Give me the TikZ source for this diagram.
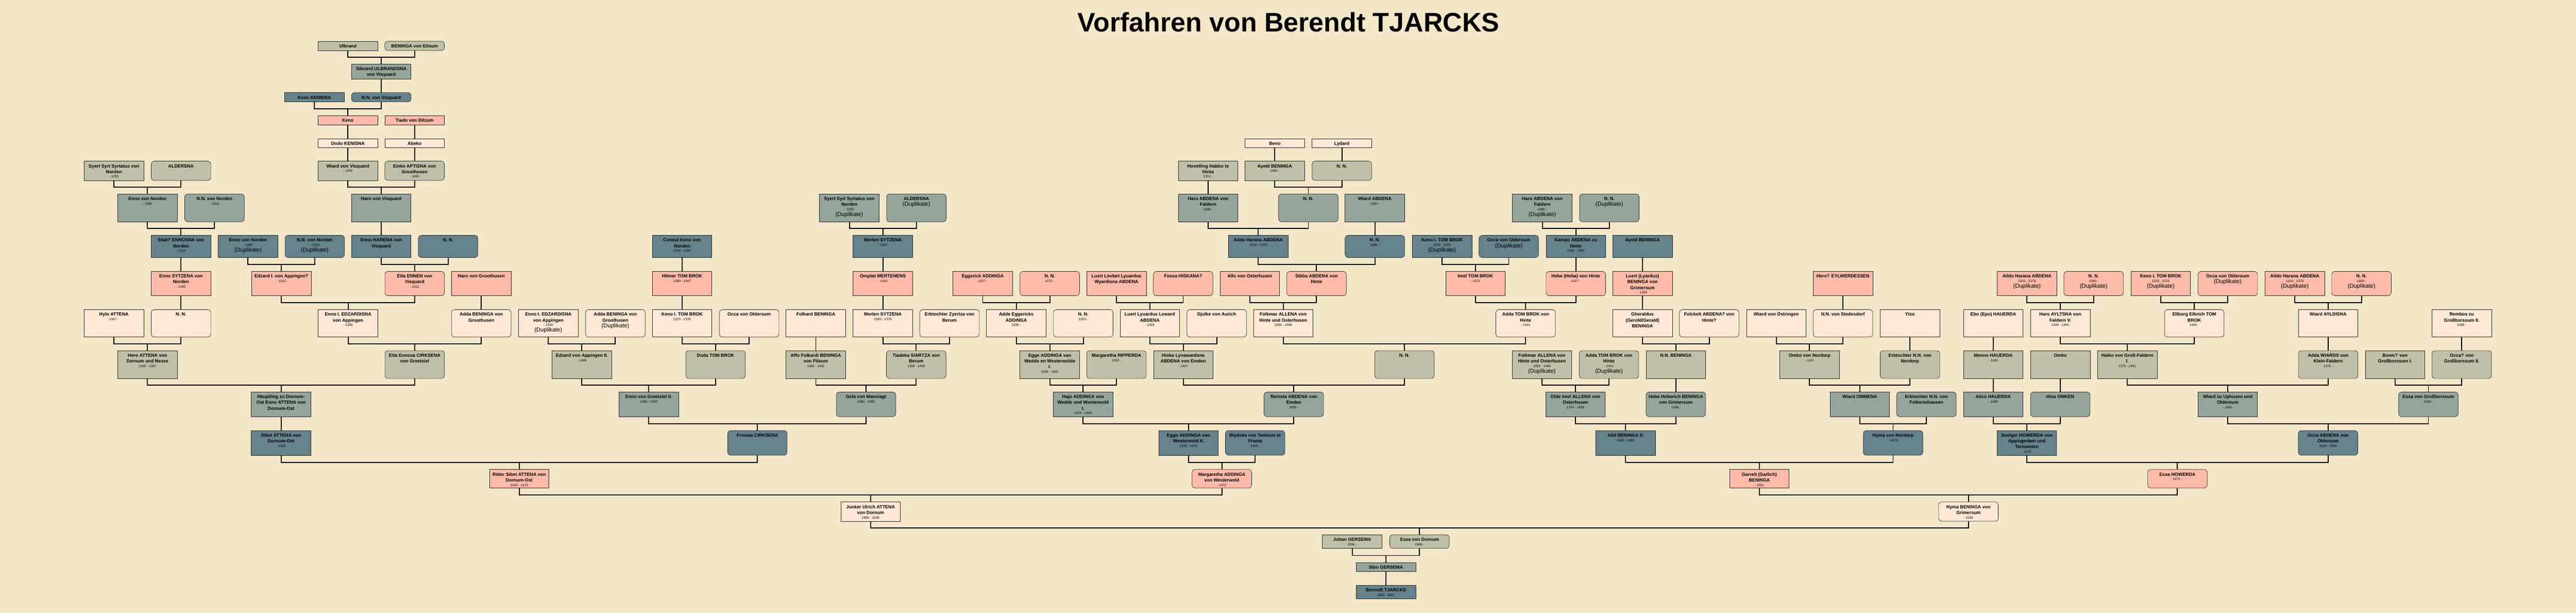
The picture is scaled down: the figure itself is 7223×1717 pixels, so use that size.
\documentclass[tikz,border=0pt]{standalone}
\usepackage{fontspec}
\setmainfont{Liberation Sans}
\usetikzlibrary{calc}

\definecolor{paper}{RGB}{244,230,200}
\definecolor{khakiC}{RGB}{192,192,168}
\definecolor{sageC}{RGB}{149,165,155}
\definecolor{slateC}{RGB}{102,131,140}
\definecolor{salmonC}{RGB}{255,187,170}
\definecolor{peachC}{RGB}{255,231,214}

\newcommand{\pname}{\fontsize{6.4pt}{8pt}\selectfont\bfseries}
\newcommand{\pdate}{\fontsize{4.6pt}{6.4pt}\selectfont\mdseries}
\newcommand{\pdup}{\fontsize{8pt}{8pt}\selectfont\mdseries}
\newcommand{\genh}{13pt}
% box contents: name, dates
\newcommand{\pers}[2]{\parbox[t][\genh][t]{83.5pt}{\centering\pname\rule{0pt}{9pt}#1\par\pdate #2\par}}
\newcommand{\dupl}[2]{\parbox[t][\genh][t]{83.5pt}{\centering\pname\rule{0pt}{9pt}#1\par\pdate #2\par\pdup(Duplikate)\par}}
% parents -> child
\newcommand{\spouses}[3]{%
  \coordinate (bar) at ($(#1.south)!.5!(#3.north)$);
  \draw[link] (#1.south) -- (#1.south |- bar) -- (#2.south |- bar) -- (#2.south);
  \draw[link] (#3.north |- bar) -- (#3.north);}
\newcommand{\heir}[2]{\draw[link] (#1.south) -- (#2.north);}

\begin{document}
\begin{tikzpicture}[x=0.5pt,y=-0.5pt,
  man/.style={draw=black!85, line width=0.5pt, inner sep=0pt, anchor=north},
  woman/.style={man, rounded corners=4pt},
  gkhaki/.style={fill=khakiC}, gsage/.style={fill=sageC}, gslate/.style={fill=slateC},
  gsalmon/.style={fill=salmonC}, gpeach/.style={fill=peachC},
  link/.style={line width=1.4pt}]
\useasboundingbox (0,0) rectangle (7223,1717);
\fill[paper] (0,0) rectangle (7223,1717);

% Title
\node[anchor=base, font=\fontsize{37.5pt}{40pt}\selectfont\bfseries] (title) at (3613,89) {Vorfahren von Berendt TJARCKS};

%Generation 0
\def\genh{13pt}
\node[man, gkhaki] (ulbrand) at (975.5,115) {\pers{Ulbrand}{}};
\node[woman, gkhaki] (beningaE) at (1162.5,115) {\pers{BENINGA von Eilsum}{}};

%Generation 1
\def\genh{21pt}
\node[man, gsage] (sibrand) at (1069,179) {\pers{Sibrand ULBRANDSNA\\von Visquard}{}};

%Generation 2
\def\genh{13pt}
\node[man, gslate] (kenoK) at (881.5,259) {\pers{Keno KENISNA}{}};
\node[woman, gslate] (nnVis) at (1069,259) {\pers{N.N. von Visquard}{}};

%Generation 3
\def\genh{13pt}
\node[man, gsalmon] (keno) at (975.5,323) {\pers{Keno}{}};
\node[man, gsalmon] (tiado) at (1162.5,323) {\pers{Tiado von Ditzum}{}};

%Generation 4
\def\genh{12.5pt}
\node[man, gpeach] (dodo) at (975.5,388) {\pers{Dodo KENISNA}{}};
\node[man, gpeach] (abeko) at (1162.5,388) {\pers{Abeko}{}};
\node[man, gpeach] (beno) at (3574.5,388) {\pers{Beno}{}};
\node[man, gpeach] (lydard) at (3762.5,388) {\pers{Lydard}{}};

%Generation 5
\def\genh{27pt}
\node[man, gkhaki] (syert) at (319.5,451) {\pers{Syert Syrt Syrtatus von\\Norden}{- 1255}};
\node[woman, gkhaki] (aldersna) at (507.5,451) {\pers{ALDERSNA}{}};
\node[man, gkhaki] (wiardV) at (975.5,451) {\pers{Wiard von Visquard}{- 1430}};
\node[woman, gkhaki] (einke) at (1162.5,451) {\pers{Einke APTISNA von\\Groothusen}{- 1430}};
\node[man, gkhaki] (habbo) at (3387.5,451) {\pers{Hovetling Habbo te\\Hinta}{1312 -}};
\node[man, gkhaki] (ayeld) at (3574.5,451) {\pers{Ayeld BENINGA}{1280 -}};
\node[woman, gkhaki] (nnAy) at (3762.5,451) {\pers{N. N.}{}};

%Generation 6
\def\genh{39pt}
\node[man, gsage] (ennoN) at (413.5,543) {\pers{Enno von Norden}{- 1280}};
\node[woman, gsage] (nnNorden) at (601.5,543) {\pers{N.N. von Norden}{- 1310}};
\node[man, gsage] (haroV) at (1069,543) {\pers{Haro von Visquard}{}};
\node[man, gsage] (syertD) at (2381.5,543) {\dupl{Syert Syrt Syrtatus von\\Norden}{- 1255}};
\node[woman, gsage] (aldersnaD) at (2569.5,543) {\dupl{ALDERSNA}{}};
\node[man, gsage] (haroA) at (3387.5,543) {\pers{Haro ABDENA von\\Faldern}{1280 -}};
\node[woman, gsage] (nnB) at (3668.5,543) {\pers{N. N.}{}};
\node[man, gsage] (wiardA) at (3855,543) {\pers{Wiard ABDENA}{1300 -}};
\node[man, gsage] (haroAD) at (4324.5,543) {\dupl{Haro ABDENA von\\Faldern}{1280 -}};
\node[woman, gsage] (nnBD) at (4512.5,543) {\dupl{N. N.}{}};

%Generation 7
\def\genh{31pt}
\node[man, gslate] (sitat) at (507.5,659) {\pers{Sitat? ENNOSNA von\\Norden}{- 1310}};
\node[man, gslate] (ennoND) at (695.5,659) {\dupl{Enno von Norden}{- 1280}};
\node[woman, gslate] (nnNordenD) at (882.5,659) {\dupl{N.N. von Norden}{- 1310}};
\node[man, gslate] (ennoH) at (1069,659) {\pers{Enno HARENA von\\Visquard}{}};
\node[woman, gslate] (nnH) at (1256.5,659) {\pers{N. N.}{}};
\node[man, gslate] (consul) at (1912.5,659) {\pers{Consul Keno von\\Norden}{1250 - 1300}};
\node[man, gslate] (mertenA) at (2475.5,659) {\pers{Merten SYTZENA}{- 1367}};
\node[man, gslate] (aildo) at (3528,659) {\pers{Aildo Harana ABDENA}{1310 - 1379}};
\node[woman, gslate] (nnW) at (3855,659) {\pers{N. N.}{1300 -}};
\node[man, gslate] (kenoD) at (4043.5,659) {\dupl{Keno I. TOM BROK}{1315 - 1376}};
\node[woman, gslate] (occaD) at (4230.5,659) {\dupl{Occa von Oldersum}{}};
\node[man, gslate] (kampo) at (4418.5,659) {\pers{Kampo ABDENA zu\\Hinte}{1350 - 1350}};
\node[man, gslate] (ayeldB) at (4605.5,659) {\pers{Ayeld BENINGA}{}};

%Generation 8
\def\genh{34pt}
\node[man, gsalmon] (sytzena) at (507.5,760) {\pers{Enno SYTZENA von\\Norden}{- 1340}};
\node[man, gsalmon] (edzardI) at (789,760) {\pers{Edzard I. von Appingen?}{- 1312}};
\node[woman, gsalmon] (etta) at (1162.75,760) {\pers{Etta ENNEN von\\Visquard}{- 1312}};
\node[man, gsalmon] (haroG) at (1349.5,760) {\pers{Haro von Groothusen}{}};
\node[man, gsalmon] (hilmer) at (1912.5,760) {\pers{Hilmer TOM BROK}{1280 - 1347}};
\node[man, gsalmon] (omptat) at (2475.5,760) {\pers{Omptat MERTENENS}{- 1310}};
\node[man, gsalmon] (eggerick) at (2755.5,760) {\pers{Eggerick ADDINGA}{1257 -}};
\node[woman, gsalmon] (nnE) at (2943.5,760) {\pers{N. N.}{1272 -}};
\node[man, gsalmon] (luertL) at (3130.5,760) {\pers{Luert Lindart Lyuardus\\Wyardisna ABDENA}{}};
\node[woman, gsalmon] (fossa) at (3317.5,760) {\pers{Fossa HISKANA?}{}};
\node[man, gsalmon] (allo) at (3504.5,760) {\pers{Allo von Osterhusen}{}};
\node[woman, gsalmon] (sibba) at (3691.5,760) {\pers{Sibba ABDENA von\\Hinte}{}};
\node[man, gsalmon] (imel) at (4137,760) {\pers{Imel TOM BROK}{- 1372}};
\node[woman, gsalmon] (hebe) at (4418.5,760) {\pers{Hebe (Heba) von Hinte}{1327 -}};
\node[man, gsalmon] (luertB) at (4605.5,760) {\pers{Luert (Lyardus)\\BENINGA von\\Grimersum}{- 1354}};
\node[man, gsalmon] (heroE) at (5167.5,760) {\pers{Hero? EYLWERDESSEN}{}};
\node[man, gsalmon] (aildoD) at (5683.5,760) {\dupl{Aildo Harana ABDENA}{1310 - 1379}};
\node[woman, gsalmon] (nnWD) at (5870.5,760) {\dupl{N. N.}{1300 -}};
\node[man, gsalmon] (kenoD2) at (6058.5,760) {\dupl{Keno I. TOM BROK}{1315 - 1376}};
\node[woman, gsalmon] (occaD2) at (6246.5,760) {\dupl{Occa von Oldersum}{}};
\node[man, gsalmon] (aildoD2) at (6434.5,760) {\dupl{Aildo Harana ABDENA}{1310 - 1379}};
\node[woman, gsalmon] (nnWD2) at (6621.5,760) {\dupl{N. N.}{1300 -}};

%Generation 9
\def\genh{38.5pt}
\node[man, gpeach] (hylo) at (319.5,867) {\pers{Hylo ATTENA}{1347 -}};
\node[woman, gpeach] (nnS) at (507.5,867) {\pers{N. N.}{}};
\node[man, gpeach] (ennoE) at (976,867) {\pers{Enno I. EDZARDISNA\\von Appingen}{- 1350}};
\node[woman, gpeach] (adda) at (1349.5,867) {\pers{Adda BENINGA von\\Groothusen}{}};
\node[man, gpeach] (ennoED) at (1537.5,867) {\dupl{Enno I. EDZARDISNA\\von Appingen}{- 1350}};
\node[woman, gpeach] (addaD) at (1725.5,867) {\dupl{Adda BENINGA von\\Groothusen}{}};
\node[man, gpeach] (kenoT) at (1912.5,867) {\pers{Keno I. TOM BROK}{1315 - 1376}};
\node[woman, gpeach] (occa) at (2100.5,867) {\pers{Occa von Oldersum}{}};
\node[man, gpeach] (folkard) at (2287.5,867) {\pers{Folkard BENINGA}{}};
\node[man, gpeach] (mertenB) at (2475.5,867) {\pers{Merten SYTZENA}{1350 - 1379}};
\node[woman, gpeach] (erbZ) at (2662.5,867) {\pers{Erbtochter Zyertza von\\Berum}{}};
\node[man, gpeach] (adde) at (2849.5,867) {\pers{Adde Eggericks\\ADDINGA}{1290 -}};
\node[woman, gpeach] (nnF) at (3037.5,867) {\pers{N. N.}{1303 -}};
\node[man, gpeach] (luertY) at (3224,867) {\pers{Luert Lyuardus Leward\\ABDENA}{- 1369}};
\node[woman, gpeach] (djulke) at (3411.5,867) {\pers{Djulke von Aurich}{}};
\node[man, gpeach] (folkmar) at (3598,867) {\pers{Folkmar ALLENA von\\Hinte und Osterhusen}{1350 - 1406}};
\node[woman, gpeach] (addaT) at (4277.75,867) {\pers{Adda TOM BROK von\\Hinte}{- 1421}};
\node[man, gpeach] (gheraldus) at (4605.5,867) {\pers{Gheraldus\\(Gerold/Gerald)\\BENINGA}{}};
\node[woman, gpeach] (folckelt) at (4792.5,867) {\pers{Folckelt ABDENA? von\\Hinte?}{}};
\node[man, gpeach] (wiardO) at (4980.5,867) {\pers{Wiard von Östringen}{}};
\node[woman, gpeach] (nnSted) at (5167.5,867) {\pers{N.N. von Stedesdorf}{}};
\node[man, gpeach] (ytzo) at (5355.5,867) {\pers{Ytzo}{}};
\node[man, gpeach] (ebo) at (5589,867) {\pers{Ebo (Epo) HAUERDA}{}};
\node[man, gpeach] (haroAy) at (5777,867) {\pers{Haro AYLTSNA von\\Faldern V.}{1340 - 1400}};
\node[woman, gpeach] (ellborg) at (6152.5,867) {\pers{Ellborg Elbrich TOM\\BROK}{1340 -}};
\node[man, gpeach] (wiardAy) at (6528,867) {\pers{Wiard AYLDISNA}{}};
\node[man, gpeach] (rembos) at (6902.5,867) {\pers{Rembos zu\\Großborssum II.}{1400 -}};

%Generation 10
\def\genh{39pt}
\node[man, gkhaki] (heroA) at (413.5,982) {\pers{Hero ATTENA von\\Dornum und Nesse}{1330 - 1397}};
\node[woman, gkhaki] (ettaC) at (1162.75,982) {\pers{Etta Ennosa CIRKSENA\\von Greetsiel}{}};
\node[man, gkhaki] (edzardII) at (1631.5,982) {\pers{Edzard von Appingen II.}{- 1406}};
\node[woman, gkhaki] (doda) at (2006.5,982) {\pers{Doda TOM BROK}{}};
\node[man, gkhaki] (affo) at (2287.5,982) {\pers{Affo Folkardi BENINGA\\von Pilsum}{1359 - 1402}};
\node[woman, gkhaki] (tiadeka) at (2569,982) {\pers{Tiadeka SIARTZA von\\Berum}{1359 - 1409}};
\node[man, gkhaki] (egge) at (2943.5,982) {\pers{Egge ADDINGA van\\Wedde en Westerwolde\\I.}{1330 - 1391}};
\node[woman, gkhaki] (margR) at (3130.5,982) {\pers{Margaretha RIPPERDA}{1330 -}};
\node[man, gkhaki] (hisko) at (3317.75,982) {\pers{Hisko Lynawardsna\\ABDENA von Emden}{- 1427}};
\node[woman, gkhaki] (nnR) at (3937.9,982) {\pers{N. N.}{}};
\node[man, gkhaki] (folkmarD) at (4323.5,982) {\dupl{Folkmar ALLENA von\\Hinte und Osterhusen}{1350 - 1406}};
\node[woman, gkhaki] (addaTD) at (4511.5,982) {\dupl{Adda TOM BROK von\\Hinte}{- 1421}};
\node[man, gkhaki] (nnBen) at (4699,982) {\pers{N.N. BENINGA}{}};
\node[man, gkhaki] (omko) at (5074,982) {\pers{Omko von Nordorp}{- 1421}};
\node[woman, gkhaki] (erbN) at (5355.5,982) {\pers{Erbtochter N.N. von\\Nordorp}{}};
\node[man, gkhaki] (menno) at (5589,982) {\pers{Menno HAUERDA}{- 1429}};
\node[man, gkhaki] (omkoB) at (5777,982) {\pers{Omko}{}};
\node[man, gkhaki] (haiko) at (5964.75,982) {\pers{Haiko von Groß-Faldern\\I.}{1375 - 1461}};
\node[woman, gkhaki] (addaW) at (6528,982) {\pers{Adda WIARDS von\\Klein-Faldern}{1375 -}};
\node[man, gkhaki] (bowo) at (6715.5,982) {\pers{Bowo? von\\Großborssum I.}{}};
\node[woman, gkhaki] (occaG) at (6902.5,982) {\pers{Occa? von\\Großborssum II.}{}};

%Generation 11
\def\genh{34.5pt}
\node[man, gsage] (haeupt) at (788.1,1098) {\pers{Häuptling zu Dornum-\\Ost Enno ATTENA von\\Dornum-Ost}{}};
\node[man, gsage] (ennoG) at (1819,1098) {\pers{Enno von Greetsiel II.}{1380 - 1450}};
\node[woman, gsage] (gela) at (2428.25,1098) {\pers{Gela von Manslagt}{1380 - 1455}};
\node[man, gsage] (hajo) at (3037,1098) {\pers{Hajo ADDINGA von\\Wedde und Westerwold\\I.}{1374 - 1443}};
\node[woman, gsage] (reinsta) at (3627.8,1098) {\pers{Reinsta ABDENA von\\Emden}{1400 -}};
\node[man, gsage] (olde) at (4417.5,1098) {\pers{Olde Imel ALLENA von\\Osterhusen}{1374 - 1458}};
\node[woman, gsage] (hebeH) at (4699,1098) {\pers{Hebe Heberich BENINGA\\von Grimersum}{1438 -}};
\node[man, gsage] (wiardOm) at (5214.75,1098) {\pers{Wiard OMMENA}{}};
\node[woman, gsage] (erbF) at (5401.5,1098) {\pers{Erbtochter N.N. von\\Folkertshausen}{}};
\node[man, gsage] (ailco) at (5589,1098) {\pers{Ailco HAUERDA}{- 1439}};
\node[woman, gsage] (hisa) at (5777,1098) {\pers{Hisa OMKEN}{}};
\node[man, gsage] (wiardU) at (6246.4,1098) {\pers{Wiard zu Uphusen und\\Oldersum}{- 1461}};
\node[woman, gsage] (essaG) at (6809,1098) {\pers{Essa von Großborssum}{1410 -}};

%Generation 12
\def\genh{34.5pt}
\node[man, gslate] (sibet) at (788.1,1206) {\pers{Sibet ATTENA von\\Dornum-Ost}{- 1433}};
\node[woman, gslate] (frouwa) at (2123.6,1206) {\pers{Frouwa CIRKSENA}{}};
\node[man, gslate] (eggo) at (3332.4,1206) {\pers{Eggo ADDINGA von\\Westerwold II.}{1425 - 1475}};
\node[woman, gslate] (blydeke) at (3519.5,1206) {\pers{Blydeke von Twixlum te\\Frama}{1425 -}};
\node[man, gslate] (aild) at (4558.25,1206) {\pers{Aild BENINGA II.}{1430 - 1483}};
\node[woman, gslate] (hyma) at (5308.1,1206) {\pers{Hyma von Nordorp}{- 1473}};
\node[man, gslate] (snelger) at (5683,1206) {\pers{Snelger HOWERDA von\\Appingedam und\\Termunten}{- 1472}};
\node[woman, gslate] (occaA) at (6527.7,1206) {\pers{Occa ABDENA von\\Oldersum}{1433 - 1504}};

%Generation 13
\def\genh{26pt}
\node[man, gsalmon] (ritter) at (1455.9,1315) {\pers{Ritter Sibet ATTENA von\\Dornum-Ost}{1425 - 1473}};
\node[woman, gsalmon] (margA) at (3426,1315) {\pers{Margaretha ADDINGA\\von Westerwold}{- 1472}};
\node[man, gsalmon] (garrelt) at (4933.2,1315) {\pers{Garrelt (Garlich)\\BENINGA}{- 1501}};
\node[woman, gsalmon] (essaH) at (6105.4,1315) {\pers{Essa HOWERDA}{1472 -}};

%Generation 14
\def\genh{27pt}
\node[man, gpeach] (junker) at (2441,1406) {\pers{Junker Ulrich ATTENA\\von Dornum}{1485 - 1538}};
\node[woman, gpeach] (hymaB) at (5519.3,1406) {\pers{Hyma BENINGA von\\Grimersum}{- 1528}};

%Generation 15
\def\genh{19pt}
\node[man, gkhaki] (johan) at (3791.5,1498) {\pers{Johan GERSEMA}{1500 -}};
\node[woman, gkhaki] (essaD) at (3980.2,1498) {\pers{Essa von Dornum}{1500 -}};

%Generation 16
\def\genh{12pt}
\node[man, gsage] (sibo) at (3886,1576) {\pers{Sibo GERSEMA}{}};

%Generation 17
\def\genh{19pt}
\node[man, gslate] (berendt) at (3886,1639) {\pers{Berendt TJARCKS}{1600 - 1691}};

%Straight Lines: one parent
\heir{sibrand}{nnVis} \heir{keno}{dodo} \heir{tiado}{abeko} \heir{dodo}{wiardV}
\heir{abeko}{einke} \heir{haroV}{ennoH} \heir{beno}{ayeld} \heir{lydard}{nnAy}
\heir{habbo}{haroA} \heir{wiardA}{nnW} \heir{sitat}{sytzena} \heir{sytzena}{nnS}
\heir{haroG}{adda} \heir{consul}{hilmer} \heir{hilmer}{kenoT} \heir{mertenA}{omptat}
\heir{omptat}{mertenB} \heir{kampo}{hebe} \heir{ayeldB}{luertB} \heir{luertB}{gheraldus}
\heir{heroE}{nnSted} \heir{folkard}{affo} \heir{ytzo}{erbN} \heir{ebo}{menno}
\heir{wiardAy}{addaW} \heir{rembos}{occaG} \heir{menno}{ailco} \heir{omkoB}{hisa}
\heir{nnBen}{hebeH} \heir{haeupt}{sibet} \heir{sibo}{berendt}

%Straight Lines: two parents
\spouses{ulbrand}{beningaE}{sibrand}
\spouses{kenoK}{nnVis}{keno}
\spouses{wiardV}{einke}{haroV}
\spouses{syert}{aldersna}{ennoN}
\spouses{ennoN}{nnNorden}{sitat}
\spouses{ayeld}{nnAy}{nnB}
\spouses{haroA}{nnB}{aildo}
\spouses{syertD}{aldersnaD}{mertenA}
\spouses{haroAD}{nnBD}{kampo}
\spouses{ennoND}{nnNordenD}{edzardI}
\spouses{ennoH}{nnH}{etta}
\spouses{aildo}{nnW}{sibba}
\spouses{kenoD}{occaD}{imel}
\spouses{eggerick}{nnE}{adde}
\spouses{luertL}{fossa}{luertY}
\spouses{allo}{sibba}{folkmar}
\spouses{imel}{hebe}{addaT}
\spouses{aildoD}{nnWD}{haroAy}
\spouses{kenoD2}{occaD2}{ellborg}
\spouses{aildoD2}{nnWD2}{wiardAy}
\spouses{edzardI}{etta}{ennoE}
\spouses{hylo}{nnS}{heroA}
\spouses{ennoE}{adda}{ettaC}
\spouses{ennoED}{addaD}{edzardII}
\spouses{kenoT}{occa}{doda}
\spouses{mertenB}{erbZ}{tiadeka}
\spouses{adde}{nnF}{egge}
\spouses{luertY}{djulke}{hisko}
\spouses{folkmar}{addaT}{nnR}
\spouses{gheraldus}{folckelt}{nnBen}
\spouses{wiardO}{nnSted}{omko}
\spouses{haroAy}{ellborg}{haiko}
\spouses{heroA}{ettaC}{haeupt}
\spouses{edzardII}{doda}{ennoG}
\spouses{affo}{tiadeka}{gela}
\spouses{egge}{margR}{hajo}
\spouses{hisko}{nnR}{reinsta}
\spouses{folkmarD}{addaTD}{olde}
\spouses{omko}{erbN}{wiardOm}
\spouses{haiko}{addaW}{wiardU}
\spouses{bowo}{occaG}{essaG}
\spouses{ennoG}{gela}{frouwa}
\spouses{hajo}{reinsta}{eggo}
\spouses{olde}{hebeH}{aild}
\spouses{wiardOm}{erbF}{hyma}
\spouses{ailco}{hisa}{snelger}
\spouses{wiardU}{essaG}{occaA}
\spouses{sibet}{frouwa}{ritter}
\spouses{eggo}{blydeke}{margA}
\spouses{aild}{hyma}{garrelt}
\spouses{snelger}{occaA}{essaH}
\spouses{ritter}{margA}{junker}
\spouses{garrelt}{essaH}{hymaB}
\spouses{junker}{hymaB}{essaD}
\spouses{johan}{essaD}{sibo}

\end{tikzpicture}
\end{document}
